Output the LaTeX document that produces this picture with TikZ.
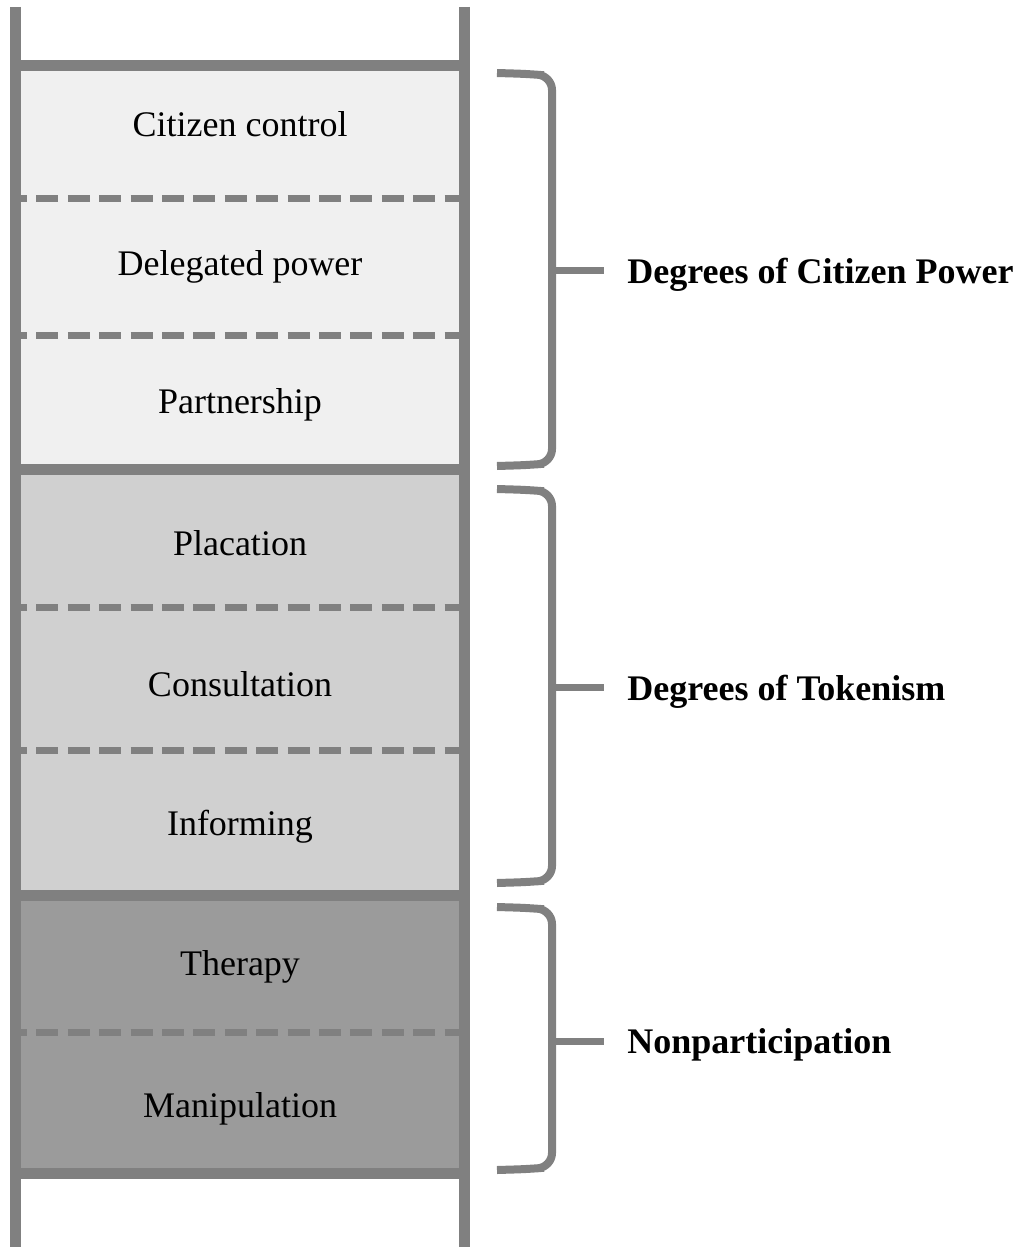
\documentclass[tikz,border=0pt]{standalone}
\usepackage{fontspec}
\setmainfont{Liberation Serif}
\definecolor{railgray}{HTML}{808080}
\definecolor{powerfill}{HTML}{F0F0F0}
\definecolor{tokenfill}{HTML}{D0D0D0}
\definecolor{nonfill}{HTML}{9B9B9B}
\begin{document}
\begin{tikzpicture}[
      x=0.5pt, y=-0.5pt,
      rail/.style={draw=railgray, line width=5.5pt},
      rung/.style={draw=railgray, line width=5.5pt},
      split/.style={draw=railgray, line width=3.5pt, dash pattern=on 11pt off 4.7pt, dash phase=8pt},
      brace/.style={draw=railgray, line width=4pt, rounded corners=7pt},
      tick/.style={draw=railgray, line width=3.5pt},
      steptext/.style={font=\fontsize{18}{22}\selectfont, anchor=base, inner sep=0pt},
      grouptext/.style={font=\fontsize{18}{22}\selectfont\bfseries, anchor=base west, inner sep=0pt}
    ]

    \useasboundingbox (0,0) rectangle (1023,1247);

    % ladder
    \fill[powerfill] (21,66) rectangle (459,469);
    \fill[tokenfill] (21,469) rectangle (459,895);
    \fill[nonfill] (21,895) rectangle (459,1173);

    \draw[split] (21,198) -- (459,198);
    \draw[split] (21,335) -- (459,335);
    \draw[split] (21,607) -- (459,607);
    \draw[split] (21,750) -- (459,750);
    \draw[split] (21,1032) -- (459,1032);

    \draw[rung] (15,66) -- (464,66);
    \draw[rung] (15,469) -- (464,469);
    \draw[rung] (15,895) -- (464,895);
    \draw[rung] (15,1173) -- (464,1173);

    \draw[rail] (15,7) -- (15,1247);
    \draw[rail] (464,7) -- (464,1247);

    \node[steptext] (control) at (240,137) {Citizen control};
    \node[steptext] (delegated) at (240,275) {Delegated power};
    \node[steptext] (partner) at (240,413) {Partnership};
    \node[steptext] (placation) at (240,555) {Placation};
    \node[steptext] (consult) at (240,696) {Consultation};
    \node[steptext] (inform) at (240,835) {Informing};
    \node[steptext] (therapy) at (240,975) {Therapy};
    \node[steptext] (manip) at (240,1117) {Manipulation};

    % groups
    \draw[brace] (497,73) -- (530,74) -- (552,76) -- (552,463) -- (530,465) -- (497,466);
    \draw[brace] (497,489) -- (530,490) -- (552,492) -- (552,880) -- (530,882) -- (497,883);
    \draw[brace] (497,907) -- (530,908) -- (552,910) -- (552,1167) -- (530,1169) -- (497,1170);

    \coordinate (power) at (552,270);
    \coordinate (token) at (552,687);
    \coordinate (nonpart) at (552,1041);
    \coordinate (powerend) at (604,270);
    \coordinate (tokenend) at (604,687);
    \coordinate (nonpartend) at (604,1041);

    \draw[tick] (power) -- (powerend);
    \draw[tick] (token) -- (tokenend);
    \draw[tick] (nonpart) -- (nonpartend);

    \node[grouptext] (powerlabel) at (627,283) {Degrees of Citizen Power};
    \node[grouptext] (tokenlabel) at (627,700) {Degrees of Tokenism};
    \node[grouptext] (nonpartlabel) at (627,1053) {Nonparticipation};

\end{tikzpicture}
\end{document}
